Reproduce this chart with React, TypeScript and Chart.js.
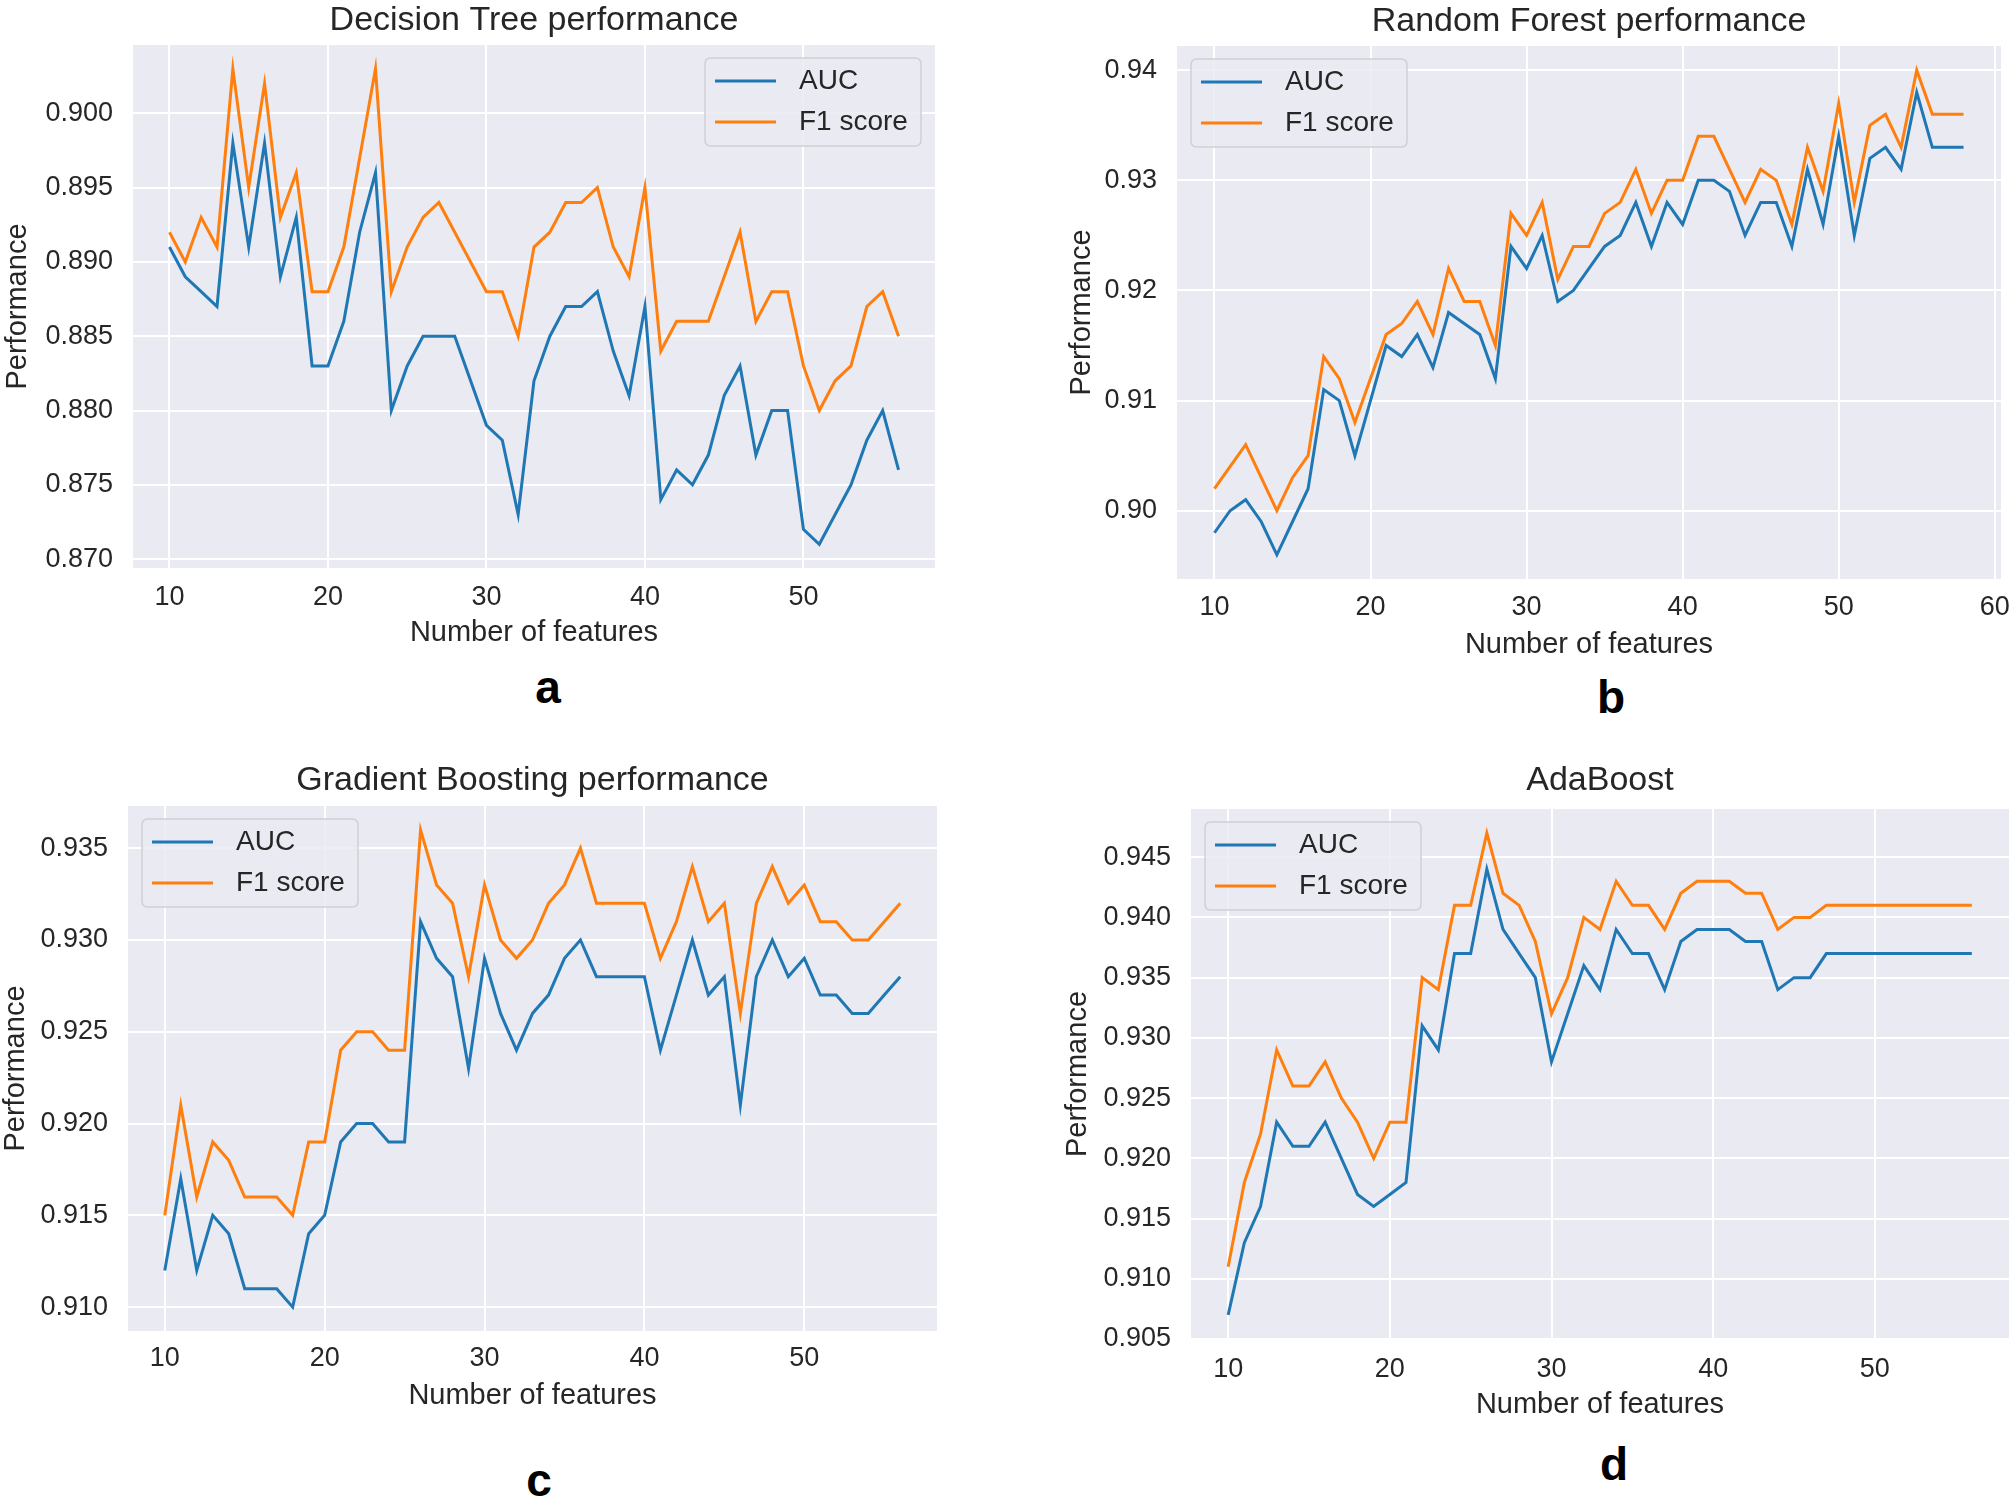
import React, { useEffect, useRef } from 'react';
import { Chart, registerables } from 'chart.js';

Chart.register(...registerables);

const FONT = "'Liberation Sans', Arial, Helvetica, sans-serif";
const TEXT = '#262626';
const BLUE = '#1f77b4';
const ORANGE = '#ff7f0e';

// ---------------- data ----------------
const featuresDT = [10, 11, 12, 13, 14, 15, 16, 17, 18, 19, 20, 21, 22, 23, 24, 25, 26, 27, 28, 29, 30, 31, 32, 33, 34, 35, 36, 37, 38, 39, 40, 41, 42, 43, 44, 45, 46, 47, 48, 49, 50, 51, 52, 53, 54, 55, 56];
const aucDT = [0.891, 0.889, 0.888, 0.887, 0.898, 0.891, 0.898, 0.889, 0.893, 0.883, 0.883, 0.886, 0.892, 0.896, 0.880, 0.883, 0.885, 0.885, 0.885, 0.882, 0.879, 0.878, 0.873, 0.882, 0.885, 0.887, 0.887, 0.888, 0.884, 0.881, 0.887, 0.874, 0.876, 0.875, 0.877, 0.881, 0.883, 0.877, 0.880, 0.880, 0.872, 0.871, 0.873, 0.875, 0.878, 0.880, 0.876];
const f1DT = [0.892, 0.890, 0.893, 0.891, 0.903, 0.895, 0.902, 0.893, 0.896, 0.888, 0.888, 0.891, 0.897, 0.903, 0.888, 0.891, 0.893, 0.894, 0.892, 0.890, 0.888, 0.888, 0.885, 0.891, 0.892, 0.894, 0.894, 0.895, 0.891, 0.889, 0.895, 0.884, 0.886, 0.886, 0.886, 0.889, 0.892, 0.886, 0.888, 0.888, 0.883, 0.880, 0.882, 0.883, 0.887, 0.888, 0.885];

const featuresRF = [10, 11, 12, 13, 14, 15, 16, 17, 18, 19, 20, 21, 22, 23, 24, 25, 26, 27, 28, 29, 30, 31, 32, 33, 34, 35, 36, 37, 38, 39, 40, 41, 42, 43, 44, 45, 46, 47, 48, 49, 50, 51, 52, 53, 54, 55, 56, 57, 58];
const aucRF = [0.898, 0.900, 0.901, 0.899, 0.896, 0.899, 0.902, 0.911, 0.910, 0.905, 0.910, 0.915, 0.914, 0.916, 0.913, 0.918, 0.917, 0.916, 0.912, 0.924, 0.922, 0.925, 0.919, 0.920, 0.922, 0.924, 0.925, 0.928, 0.924, 0.928, 0.926, 0.930, 0.930, 0.929, 0.925, 0.928, 0.928, 0.924, 0.931, 0.926, 0.934, 0.925, 0.932, 0.933, 0.931, 0.938, 0.933, 0.933, 0.933];
const f1RF = [0.902, 0.904, 0.906, 0.903, 0.900, 0.903, 0.905, 0.914, 0.912, 0.908, 0.912, 0.916, 0.917, 0.919, 0.916, 0.922, 0.919, 0.919, 0.915, 0.927, 0.925, 0.928, 0.921, 0.924, 0.924, 0.927, 0.928, 0.931, 0.927, 0.930, 0.930, 0.934, 0.934, 0.931, 0.928, 0.931, 0.930, 0.926, 0.933, 0.929, 0.937, 0.928, 0.935, 0.936, 0.933, 0.940, 0.936, 0.936, 0.936];

const featuresGB = [10, 11, 12, 13, 14, 15, 16, 17, 18, 19, 20, 21, 22, 23, 24, 25, 26, 27, 28, 29, 30, 31, 32, 33, 34, 35, 36, 37, 38, 39, 40, 41, 42, 43, 44, 45, 46, 47, 48, 49, 50, 51, 52, 53, 54, 55, 56];
const aucGB = [0.912, 0.917, 0.912, 0.915, 0.914, 0.911, 0.911, 0.911, 0.910, 0.914, 0.915, 0.919, 0.920, 0.920, 0.919, 0.919, 0.931, 0.929, 0.928, 0.923, 0.929, 0.926, 0.924, 0.926, 0.927, 0.929, 0.930, 0.928, 0.928, 0.928, 0.928, 0.924, 0.927, 0.930, 0.927, 0.928, 0.921, 0.928, 0.930, 0.928, 0.929, 0.927, 0.927, 0.926, 0.926, 0.927, 0.928];
const f1GB = [0.915, 0.921, 0.916, 0.919, 0.918, 0.916, 0.916, 0.916, 0.915, 0.919, 0.919, 0.924, 0.925, 0.925, 0.924, 0.924, 0.936, 0.933, 0.932, 0.928, 0.933, 0.930, 0.929, 0.930, 0.932, 0.933, 0.935, 0.932, 0.932, 0.932, 0.932, 0.929, 0.931, 0.934, 0.931, 0.932, 0.926, 0.932, 0.934, 0.932, 0.933, 0.931, 0.931, 0.930, 0.930, 0.931, 0.932];

const featuresAB = [10, 11, 12, 13, 14, 15, 16, 17, 18, 19, 20, 21, 22, 23, 24, 25, 26, 27, 28, 29, 30, 31, 32, 33, 34, 35, 36, 37, 38, 39, 40, 41, 42, 43, 44, 45, 46, 47, 48, 49, 50, 51, 52, 53, 54, 55, 56];
const aucAB = [0.907, 0.913, 0.916, 0.923, 0.921, 0.921, 0.923, 0.920, 0.917, 0.916, 0.917, 0.918, 0.931, 0.929, 0.937, 0.937, 0.944, 0.939, 0.937, 0.935, 0.928, 0.932, 0.936, 0.934, 0.939, 0.937, 0.937, 0.934, 0.938, 0.939, 0.939, 0.939, 0.938, 0.938, 0.934, 0.935, 0.935, 0.937, 0.937, 0.937, 0.937, 0.937, 0.937, 0.937, 0.937, 0.937, 0.937];
const f1AB = [0.911, 0.918, 0.922, 0.929, 0.926, 0.926, 0.928, 0.925, 0.923, 0.920, 0.923, 0.923, 0.935, 0.934, 0.941, 0.941, 0.947, 0.942, 0.941, 0.938, 0.932, 0.935, 0.940, 0.939, 0.943, 0.941, 0.941, 0.939, 0.942, 0.943, 0.943, 0.943, 0.942, 0.942, 0.939, 0.940, 0.940, 0.941, 0.941, 0.941, 0.941, 0.941, 0.941, 0.941, 0.941, 0.941, 0.941];

const xTicks50 = [10, 20, 30, 40, 50];
const xTicks60 = [10, 20, 30, 40, 50, 60];
const yTicksDT = [0.870, 0.875, 0.880, 0.885, 0.890, 0.895, 0.900];
const yTicksRF = [0.90, 0.91, 0.92, 0.93, 0.94];
const yTicksGB = [0.910, 0.915, 0.920, 0.925, 0.930, 0.935];
const yTicksAB = [0.905, 0.910, 0.915, 0.920, 0.925, 0.930, 0.935, 0.940, 0.945];

const seriesLabels = ['AUC', 'F1 score'];
const titles = ['Decision Tree performance', 'Random Forest performance', 'Gradient Boosting performance', 'AdaBoost'];
const panelLetters = ['a', 'b', 'c', 'd'];

// ---------------- layout ----------------
type Box = { left: number; top: number; width: number; height: number };
type Area = { left: number; top: number; right: number; bottom: number };
type Spec = {
  title: string;
  features: number[];
  auc: number[];
  f1: number[];
  xTicks: number[];
  yTicks: number[];
  yDec: number;
  box: Box;
  area: Area;
  titleTop: number;
  xTickPad: number;
  xTitlePad: number;
  yTitlePad: number;
  legendRight: boolean;
};

const specs: Spec[] = [
  {
    title: titles[0], features: featuresDT, auc: aucDT, f1: f1DT, xTicks: xTicks50, yTicks: yTicksDT, yDec: 3,
    box: { left: 0, top: 0, width: 960, height: 660 },
    area: { left: 133, top: 45, right: 935, bottom: 568 },
    titleTop: 4, xTickPad: 13, xTitlePad: 13, yTitlePad: 3.5, legendRight: true,
  },
  {
    title: titles[1], features: featuresRF, auc: aucRF, f1: f1RF, xTicks: xTicks60, yTicks: yTicksRF, yDec: 2,
    box: { left: 1040, top: 0, width: 1010, height: 670 },
    area: { left: 137, top: 46, right: 961, bottom: 579 },
    titleTop: 5, xTickPad: 12, xTitlePad: 11, yTitlePad: 27.5, legendRight: false,
  },
  {
    title: titles[2], features: featuresGB, auc: aucGB, f1: f1GB, xTicks: xTicks50, yTicks: yTicksGB, yDec: 3,
    box: { left: 0, top: 740, width: 960, height: 680 },
    area: { left: 128, top: 66, right: 937, bottom: 591 },
    titleTop: 24, xTickPad: 11, xTitlePad: 10, yTitlePad: 1.5, legendRight: false,
  },
  {
    title: titles[3], features: featuresAB, auc: aucAB, f1: f1AB, xTicks: xTicks50, yTicks: yTicksAB, yDec: 3,
    box: { left: 1040, top: 740, width: 1010, height: 680 },
    area: { left: 151, top: 69, right: 969, bottom: 599 },
    titleTop: 24, xTickPad: 14, xTitlePad: 1, yTitlePad: 23.5, legendRight: false,
  },
];

const letterPos = [
  { x: 548, y: 687 },
  { x: 1611, y: 697 },
  { x: 539, y: 1480 },
  { x: 1614, y: 1464 },
];

function paddedRange(vals: number[]): [number, number] {
  const mn = Math.min(...vals);
  const mx = Math.max(...vals);
  const m = (mx - mn) * 0.05;
  return [mn - m, mx + m];
}

const bgPlugin = {
  id: 'plotBg',
  beforeDraw(chart: any) {
    const { ctx, chartArea } = chart;
    ctx.save();
    ctx.fillStyle = '#eaeaf2';
    ctx.fillRect(chartArea.left, chartArea.top, chartArea.right - chartArea.left, chartArea.bottom - chartArea.top);
    ctx.restore();
  },
};

const insetLegend = {
  id: 'insetLegend',
  afterDatasetsDraw(chart: any, _args: any, opts: any) {
    const { ctx, chartArea } = chart;
    const w = 216;
    const h = 88;
    const inset = 14;
    const x = opts.right ? chartArea.right - inset - w : chartArea.left + inset;
    const y = chartArea.top + 13;
    const r = 6;
    ctx.save();
    ctx.beginPath();
    ctx.moveTo(x + r, y);
    ctx.lineTo(x + w - r, y);
    ctx.quadraticCurveTo(x + w, y, x + w, y + r);
    ctx.lineTo(x + w, y + h - r);
    ctx.quadraticCurveTo(x + w, y + h, x + w - r, y + h);
    ctx.lineTo(x + r, y + h);
    ctx.quadraticCurveTo(x, y + h, x, y + h - r);
    ctx.lineTo(x, y + r);
    ctx.quadraticCurveTo(x, y, x + r, y);
    ctx.closePath();
    ctx.fillStyle = 'rgba(234,234,242,0.85)';
    ctx.fill();
    ctx.strokeStyle = '#cfcfd4';
    ctx.lineWidth = 1.5;
    ctx.stroke();
    const rows = [23, 64];
    chart.data.datasets.forEach((ds: any, i: number) => {
      const cy = y + rows[i];
      ctx.beginPath();
      ctx.strokeStyle = ds.borderColor;
      ctx.lineWidth = 3;
      ctx.moveTo(x + 10, cy);
      ctx.lineTo(x + 71, cy);
      ctx.stroke();
      ctx.fillStyle = TEXT;
      ctx.font = `28px ${FONT}`;
      ctx.textBaseline = 'middle';
      ctx.textAlign = 'left';
      ctx.fillText(ds.label, x + 94, cy);
    });
    ctx.restore();
  },
};

function Panel({ spec }: { spec: Spec }) {
  const ref = useRef<HTMLCanvasElement>(null);
  useEffect(() => {
    const s = spec;
    const [ymin, ymax] = paddedRange(s.auc.concat(s.f1));
    const [xmin, xmax] = paddedRange(s.features);
    const toPts = (vals: number[]) => vals.map((v, i) => ({ x: s.features[i], y: v }));
    const chart = new Chart(ref.current as HTMLCanvasElement, {
      type: 'line',
      data: {
        datasets: [
          { label: seriesLabels[0], data: toPts(s.auc), borderColor: BLUE, backgroundColor: BLUE, borderWidth: 3, pointRadius: 0, tension: 0 },
          { label: seriesLabels[1], data: toPts(s.f1), borderColor: ORANGE, backgroundColor: ORANGE, borderWidth: 3, pointRadius: 0, tension: 0 },
        ],
      },
      options: {
        animation: false,
        responsive: false,
        devicePixelRatio: 1,
        layout: { padding: { left: 0, top: 0, right: s.box.width - s.area.right, bottom: 0 } },
        plugins: {
          legend: { display: false },
          tooltip: { enabled: false },
          title: {
            display: true,
            text: s.title,
            fullSize: false,
            color: TEXT,
            font: { family: FONT, size: 34, weight: 'normal', lineHeight: 1 },
            padding: { top: s.titleTop, bottom: s.area.top - 34 - s.titleTop },
          },
          insetLegend: { right: s.legendRight },
        } as any,
        scales: {
          x: {
            type: 'linear',
            min: xmin,
            max: xmax,
            afterFit: (sc: any) => { sc.height = s.box.height - s.area.bottom; },
            afterBuildTicks: (sc: any) => { sc.ticks = s.xTicks.map((v) => ({ value: v })); },
            ticks: { autoSkip: false, padding: s.xTickPad, color: TEXT, font: { family: FONT, size: 27 }, maxRotation: 0 },
            grid: { color: '#ffffff', lineWidth: 2, drawTicks: false },
            border: { display: false },
            title: { display: true, text: 'Number of features', color: TEXT, font: { family: FONT, size: 29, lineHeight: 1 }, padding: { top: 0, bottom: s.xTitlePad } },
          },
          y: {
            type: 'linear',
            min: ymin,
            max: ymax,
            afterFit: (sc: any) => { sc.width = s.area.left; },
            afterBuildTicks: (sc: any) => { sc.ticks = s.yTicks.map((v) => ({ value: v })); },
            ticks: {
              autoSkip: false,
              padding: 20,
              color: TEXT,
              font: { family: FONT, size: 27 },
              callback: (v: any) => Number(v).toFixed(s.yDec),
            },
            grid: { color: '#ffffff', lineWidth: 2, drawTicks: false },
            border: { display: false },
            title: { display: true, text: 'Performance', color: TEXT, font: { family: FONT, size: 29, lineHeight: 1 }, padding: { top: s.yTitlePad, bottom: 0 } },
          },
        },
      } as any,
      plugins: [bgPlugin, insetLegend],
    });
    return () => chart.destroy();
  }, [spec]);
  return (
    <canvas
      ref={ref}
      width={spec.box.width}
      height={spec.box.height}
      style={{ position: 'absolute', left: spec.box.left, top: spec.box.top, width: spec.box.width, height: spec.box.height }}
    />
  );
}

export default function App() {
  return (
    <div style={{ position: 'absolute', left: 0, top: 0, width: 2013, height: 1501, background: '#ffffff', overflow: 'hidden' }}>
      {specs.map((s, i) => (
        <Panel key={i} spec={s} />
      ))}
      {panelLetters.map((l, i) => (
        <div
          key={l}
          style={{
            position: 'absolute',
            left: letterPos[i].x,
            top: letterPos[i].y,
            transform: 'translate(-50%, -50%)',
            fontFamily: FONT,
            fontWeight: 'bold',
            fontSize: 46,
            lineHeight: 1,
            color: '#000000',
          }}
        >
          {l}
        </div>
      ))}
    </div>
  );
}
